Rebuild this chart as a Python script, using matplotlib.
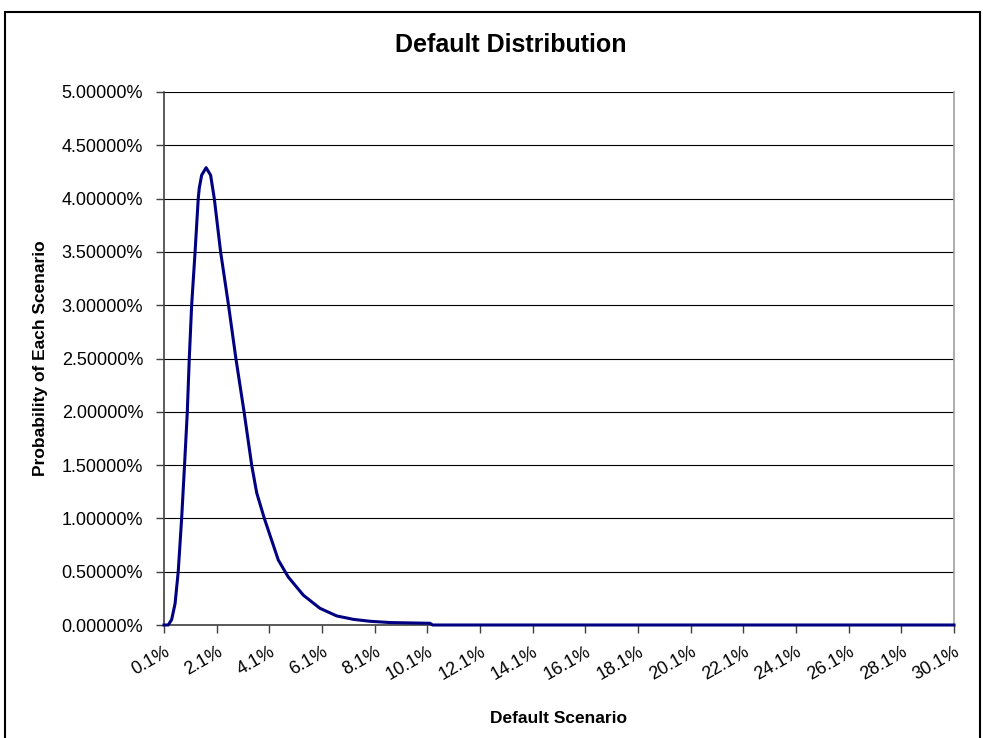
#!/usr/bin/env python
'''Default distribution: probability of each default scenario.'''
import matplotlib
matplotlib.use('Agg')
import matplotlib.pyplot as plt
from matplotlib.patches import Rectangle
from matplotlib.ticker import FuncFormatter, MultipleLocator

plt.rcParams['font.family'] = ['Liberation Sans', 'DejaVu Sans']

# default scenario (%) and probability of that scenario (%)
default_rate = [0.1, 0.26, 0.39, 0.52, 0.64, 0.77, 0.88, 0.985, 1.06, 1.15,
                1.28, 1.40, 1.44, 1.53, 1.70, 1.87, 2.01, 2.25, 2.55, 2.83,
                3.14, 3.43, 3.62, 3.91, 4.10, 4.44, 4.70, 4.82, 5.39, 6.02,
                6.66, 7.29, 7.92, 8.68, 10.2, 10.3, 30.1]
probability = [0.0, 0.0, 0.05, 0.20, 0.50, 1.00, 1.50, 2.00, 2.50, 3.00,
               3.50, 4.00, 4.10, 4.22, 4.29, 4.22, 4.00, 3.50, 3.00, 2.50,
               2.00, 1.50, 1.24, 1.00, 0.86, 0.61, 0.50, 0.45, 0.28, 0.157,
               0.085, 0.053, 0.035, 0.023, 0.016, 0.0, 0.0]

x_ticks = [0.1 + 2 * i for i in range(16)]

fig = plt.figure(figsize=(9.83, 7.38), dpi=100)
ax = fig.add_axes([164 / 983, 1 - 625 / 738, 790 / 983, 533 / 738])

# chart frame
fig.patches.append(Rectangle((5 / 983, -0.01), 975 / 983, 0.01 + 1 - 12 / 738,
                             transform=fig.transFigure, fill=False,
                             edgecolor='black', linewidth=1.5))

ax.plot(default_rate, probability, color='#000080', linewidth=2.2,
        clip_on=False, zorder=5)

ax.set_xlim(0.1, 30.1)
ax.set_ylim(0, 5)
ax.yaxis.set_major_locator(MultipleLocator(0.5))
ax.yaxis.set_major_formatter(FuncFormatter(lambda v, p: '%.5f%%' % v))
ax.set_xticks(x_ticks)
ax.set_xticklabels(['%.1f%%' % t for t in x_ticks], rotation=30,
                   ha='right', rotation_mode='anchor')
ax.grid(axis='y', color='black', linewidth=0.8)
ax.set_axisbelow(True)

for side in ('left', 'bottom'):
    ax.spines[side].set_color('#404040')
    ax.spines[side].set_linewidth(1.2)
ax.spines['top'].set_visible(False)
ax.spines['right'].set_color('#a0a0a0')
ax.spines['right'].set_linewidth(1.2)
ax.tick_params(axis='both', direction='out', length=6, width=1,
               color='#404040', labelsize=13)
ax.tick_params(axis='y', pad=9)
ax.tick_params(axis='x', pad=7)

fig.text(511 / 983, 1 - 45 / 738, 'Default Distribution', fontsize=18,
         fontweight='bold', ha='center', va='center')
ax.set_xlabel('Default Scenario', fontsize=12.5, fontweight='bold', labelpad=20)
ax.set_ylabel('Probability of Each Scenario', fontsize=12.5, fontweight='bold',
              labelpad=10)

fig.savefig('out.png', dpi=100)
